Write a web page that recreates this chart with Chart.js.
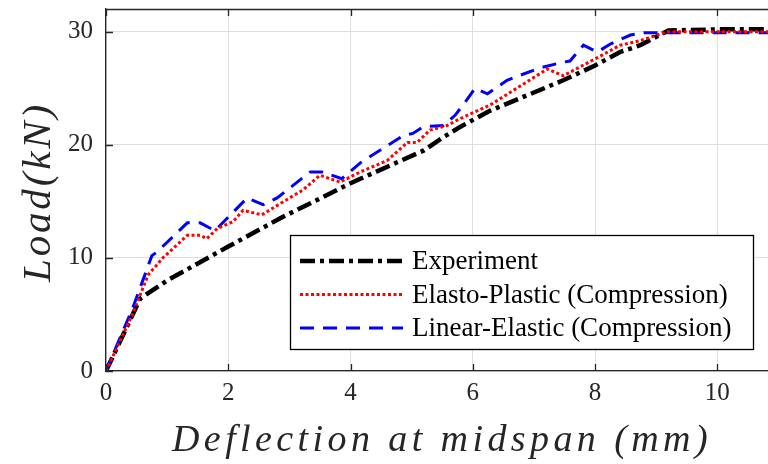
<!DOCTYPE html>
<html>
<head>
<meta charset="utf-8">
<script src="https://cdn.jsdelivr.net/npm/chart.js@4.4.1/dist/chart.umd.min.js"></script>
<style>
  html, body { margin: 0; padding: 0; background: #fff; }
  canvas { display: block; }
</style>
</head>
<body>
<canvas id="loadChart" width="768" height="464"></canvas>
<script>
'use strict';

/**
 * data
 */

const seriesNames = ['Experiment', 'Elasto-Plastic (Compression)', 'Linear-Elastic (Compression)'];

const expX = [0, 0.56, 1.0, 2.0, 2.85, 4.0, 5.2, 5.47, 5.8, 6.28, 7.48, 8.0, 8.41, 8.74, 9.2, 10.0, 10.9];
const expY = [0, 6.4, 8.0, 11.0, 13.5, 16.6, 19.5, 20.5, 21.6, 23.0, 25.7, 27.0, 28.2, 28.8, 30.1, 30.2, 30.2];

const epX = [0, 0.44, 0.69, 0.93, 1.33, 1.54, 1.65, 1.82, 2.08, 2.24, 2.55, 2.85, 3.22, 3.5, 3.83, 4.16, 4.6, 4.93, 5.09, 5.3, 5.58, 5.79, 6.28, 7.22, 7.48, 8.04, 8.41, 8.74, 9.18, 10.0, 10.9];
const epY = [0, 5.1, 8.5, 10.0, 12.0, 12.0, 11.7, 12.6, 13.2, 14.2, 13.8, 14.8, 16.0, 17.3, 16.7, 17.6, 18.6, 20.2, 20.2, 21.3, 21.7, 22.3, 23.5, 26.7, 26.1, 27.7, 28.8, 29.2, 30.0, 30.0, 30.0];

const leX = [0, 0.44, 0.75, 0.83, 1.33, 1.54, 1.78, 2.31, 2.57, 2.8, 3.34, 3.53, 3.86, 4.16, 4.86, 5.02, 5.19, 5.52, 5.71, 5.84, 6.04, 6.24, 6.56, 7.1, 7.48, 7.59, 7.81, 8.04, 8.25, 8.58, 8.8, 10.0, 10.9];
const leY = [0, 5.6, 10.2, 10.5, 13.1, 13.1, 12.4, 15.3, 14.7, 15.3, 17.6, 17.6, 17.0, 18.4, 20.8, 21.0, 21.6, 21.7, 22.6, 23.5, 25.0, 24.5, 25.7, 26.8, 27.3, 27.4, 28.8, 28.2, 28.9, 29.7, 29.9, 29.9, 29.9];

const xTitle = 'Deflection at midspan (mm)';
const yTitle = 'Load(kN)';

const axisColor = '#262626';
const serif = '"Liberation Serif", "Times New Roman", serif';

function toPoints(xs, ys) {
  return xs.map((x, i) => ({ x: x, y: ys[i] }));
}

const styles = [
  { color: '#000000', width: 4.5, dash: [15, 5, 4, 5] },
  { color: '#ff0000', width: 3, dash: [3, 2.5] },
  { color: '#0000ff', width: 3, dash: [14, 9] }
];

// draws frame, inward ticks, legend and axis titles
const decorations = {
  id: 'decorations',
  afterDraw(chart) {
    const ctx = chart.ctx;
    const a = chart.chartArea;
    const xs = chart.scales.x;
    const ys = chart.scales.y;

    ctx.save();
    ctx.strokeStyle = axisColor;
    ctx.lineWidth = 1.3;

    // top frame line
    ctx.beginPath();
    ctx.moveTo(a.left, a.top + 0.5);
    ctx.lineTo(a.right, a.top + 0.5);
    ctx.stroke();

    // inward tick marks
    ctx.beginPath();
    xs.ticks.forEach(t => {
      const px = Math.round(xs.getPixelForValue(t.value)) + 0.5;
      ctx.moveTo(px, a.bottom); ctx.lineTo(px, a.bottom - 7);
      ctx.moveTo(px, a.top); ctx.lineTo(px, a.top + 7);
    });
    ys.ticks.forEach(t => {
      const py = Math.round(ys.getPixelForValue(t.value)) + 0.5;
      ctx.moveTo(a.left, py); ctx.lineTo(a.left + 7, py);
    });
    ctx.stroke();

    // legend
    const lx = 290.5, ly = 235.5, lw = 463, lh = 114;
    ctx.fillStyle = '#ffffff';
    ctx.fillRect(lx, ly, lw, lh);
    ctx.strokeStyle = '#000000';
    ctx.lineWidth = 1.3;
    ctx.strokeRect(lx, ly, lw, lh);

    ctx.font = '27px ' + serif;
    ctx.textBaseline = 'middle';
    ctx.textAlign = 'left';
    seriesNames.forEach((name, i) => {
      const y = 261 + i * 33.5;
      const s = styles[i];
      ctx.beginPath();
      ctx.setLineDash(s.dash);
      ctx.strokeStyle = s.color;
      ctx.lineWidth = s.width;
      ctx.moveTo(300, y);
      ctx.lineTo(403, y);
      ctx.stroke();
      ctx.setLineDash([]);
      ctx.fillStyle = '#000000';
      ctx.fillText(name, 412, y + 1);
    });

    // axis titles, stretched like the LaTeX math italic
    ctx.fillStyle = axisColor;
    ctx.textAlign = 'center';
    ctx.textBaseline = 'alphabetic';
    ctx.font = 'italic 38px ' + serif;

    ctx.letterSpacing = '0px';
    let w = ctx.measureText(xTitle).width;
    ctx.letterSpacing = ((540 - w) / xTitle.length) + 'px';
    ctx.fillText(xTitle, 442, 451);

    ctx.font = 'italic 41px ' + serif;
    ctx.letterSpacing = '0px';
    w = ctx.measureText(yTitle).width;
    ctx.letterSpacing = ((180 - w) / yTitle.length) + 'px';
    ctx.translate(50, 192);
    ctx.rotate(-Math.PI / 2);
    ctx.fillText(yTitle, 0, 0);
    ctx.restore();
  }
};

const ctx = document.getElementById('loadChart').getContext('2d');
const loadChart = new Chart(ctx, {
  type: 'line',
  data: {
    datasets: [
      { label: seriesNames[0], data: toPoints(expX, expY), order: 3 },
      { label: seriesNames[1], data: toPoints(epX, epY), order: 1 },
      { label: seriesNames[2], data: toPoints(leX, leY), order: 2 }
    ].map((d, i) => Object.assign(d, {
      borderColor: styles[i].color,
      borderWidth: styles[i].width,
      borderDash: styles[i].dash,
      pointRadius: 0,
      tension: 0,
      fill: false
    }))
  },
  options: {
    responsive: false,
    devicePixelRatio: 1,
    animation: false,
    layout: { padding: { top: 9, right: 0, left: 0, bottom: 0 } },
    plugins: {
      legend: { display: false },
      tooltip: { enabled: false }
    },
    scales: {
      x: {
        type: 'linear',
        min: 0,
        max: 10.83,
        afterFit(scale) {
          scale.height = 93;
          scale.paddingLeft = 0;
          scale.paddingRight = 0;
        },
        grid: { color: '#dedede', lineWidth: 1, drawTicks: false },
        border: { display: true, color: axisColor, width: 1.3 },
        ticks: {
          stepSize: 2,
          includeBounds: false,
          padding: 7,
          color: axisColor,
          font: { family: serif, size: 25 }
        }
      },
      y: {
        type: 'linear',
        min: 0,
        max: 32,
        afterFit(scale) {
          scale.width = 106;
          scale.paddingTop = 0;
          scale.paddingBottom = 0;
        },
        grid: { color: '#dedede', lineWidth: 1, drawTicks: false },
        border: { display: true, color: axisColor, width: 1.3 },
        ticks: {
          stepSize: 10,
          includeBounds: false,
          padding: 13,
          color: axisColor,
          font: { family: serif, size: 25 }
        }
      }
    }
  },
  plugins: [decorations]
});
</script>
</body>
</html>
